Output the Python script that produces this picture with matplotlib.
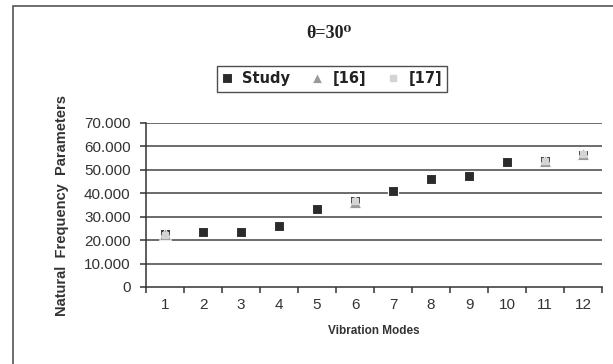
import numpy as np
import matplotlib.pyplot as plt
from matplotlib.patches import Rectangle

modes = np.arange(1, 13)
study = [22.5, 23.6, 23.6, 25.9, 33.2, 36.8, 41.1, 46.0, 47.4, 53.2, 53.6, 56.4]
ref16 = [22.6, np.nan, np.nan, np.nan, np.nan, 36.2, np.nan, np.nan, np.nan, np.nan, 53.8, 56.6]
ref17 = [22.4, np.nan, np.nan, np.nan, np.nan, 36.6, np.nan, np.nan, np.nan, np.nan, 53.6, 56.8]
yticks = [0, 10, 20, 30, 40, 50, 60, 70]
ytick_labels = ["0", "10.000", "20.000", "30.000", "40.000", "50.000", "60.000", "70.000"]

fig = plt.figure(figsize=(6.13, 3.64), dpi=100)
fig.patches.append(Rectangle((13 / 613, -0.05), 1.2, 1 - 6 / 364 + 0.05,
                             transform=fig.transFigure, fill=False,
                             edgecolor="#555555", linewidth=1.2))

ax = fig.add_axes([146 / 613, 1 - 287 / 364, 456 / 613, 164 / 364])

for y in yticks[1:]:
    ax.axhline(y, color="#444444", linewidth=1.1, zorder=1)

ax.plot(modes, study, linestyle="none", marker="s", markersize=7.5,
        color="#2b2b2b", markeredgecolor="white", markeredgewidth=0.8,
        label="Study", zorder=3)
ax.plot(modes, ref16, linestyle="none", marker="^", markersize=8.5,
        color="#9a9a9a", markeredgecolor="white", markeredgewidth=0.6,
        label="[16]", zorder=4)
ax.plot(modes, ref17, linestyle="none", marker="s", markersize=4.5,
        color="#d4d4d4", markeredgecolor="#d4d4d4",
        label="[17]", zorder=5)

ax.set_xlim(0.5, 12.5)
ax.set_ylim(0, 70)
ax.set_yticks(yticks)
ax.set_yticklabels(ytick_labels)
ax.set_xticks(modes)
ax.set_xticks(np.arange(0.5, 13, 1), minor=True)
ax.tick_params(axis="x", which="major", length=0, pad=8, labelsize=11, colors="#333333")
ax.tick_params(axis="x", which="minor", length=4, width=1.1, direction="out", color="#333333")
ax.tick_params(axis="y", length=4, width=1.1, direction="out", labelsize=11,
               colors="#333333", pad=7)
for lab in ax.get_xticklabels() + ax.get_yticklabels():
    lab.set_fontfamily("Liberation Sans")

for s in ["top", "right"]:
    ax.spines[s].set_visible(False)
ax.spines["left"].set_color("#333333")
ax.spines["bottom"].set_color("#333333")
ax.spines["left"].set_linewidth(1.1)
ax.spines["bottom"].set_linewidth(1.1)

ax.set_xlabel("Vibration Modes", fontfamily="Liberation Sans", fontweight="bold",
              fontsize=8.5, color="#333333", labelpad=9)
fig.text(62 / 613, 1 - 206 / 364, "Natural  Frequency  Parameters", rotation=90,
         ha="center", va="center", fontfamily="Liberation Sans",
         fontweight="bold", fontsize=10.5, color="#333333")

fig.text(329 / 613, 1 - 33 / 364, "θ=30⁰", ha="center", va="center",
         family=["Liberation Serif", "DejaVu Serif"], fontweight="bold",
         fontsize=13, color="#222222")

leg = fig.legend(loc="center", bbox_to_anchor=(332 / 613, 1 - 79 / 364), ncol=3,
                 frameon=True, fancybox=False, handlelength=0.7, handletextpad=0.7,
                 columnspacing=1.5, borderpad=0.35, markerscale=0.9,
                 prop={"family": "DejaVu Sans", "weight": "bold", "size": 10.5})
leg.get_frame().set_edgecolor("#222222")
leg.get_frame().set_linewidth(1.0)
for t in leg.get_texts():
    t.set_color("#222222")

plt.savefig("out.png", dpi=100)
